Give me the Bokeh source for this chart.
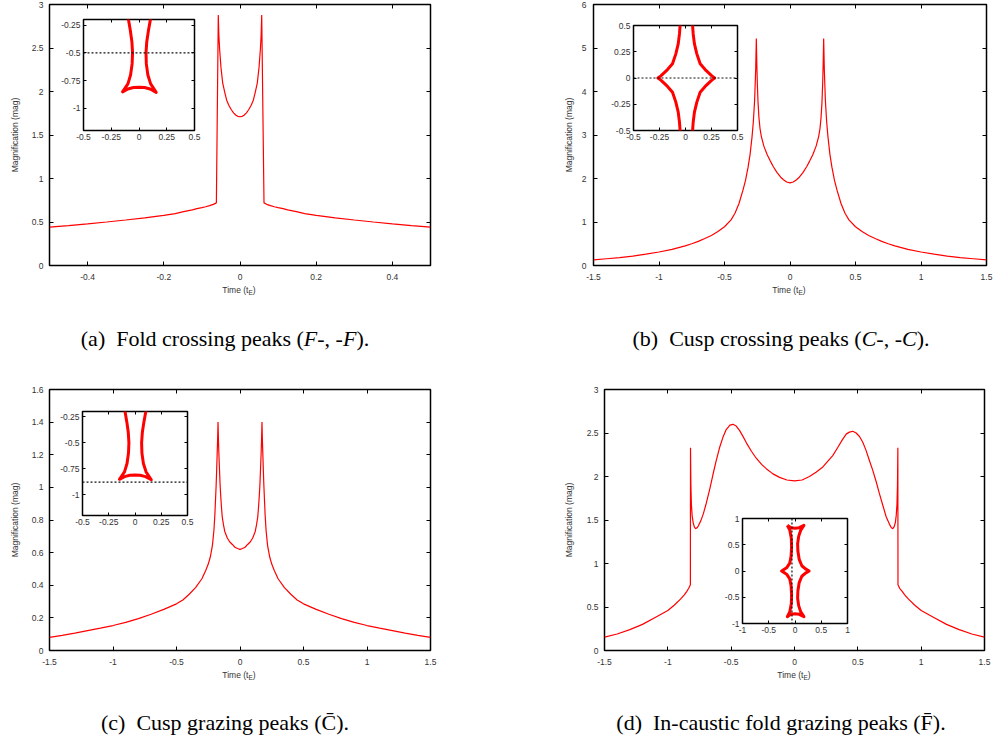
from bokeh.plotting import figure
from bokeh.models import GridBox, Div, LinearAxis, FixedTicker, Range1d, ColumnDataSource, Span
from bokeh.embed import file_html
from bokeh.resources import INLINE

# ---------------- data ----------------
# (a) fold crossing peaks
A_T = [-0.5, -0.45, -0.4, -0.35, -0.3, -0.25, -0.2, -0.17, -0.148, -0.125, -0.113, -0.1, -0.09, -0.08, -0.07,
       -0.062, -0.057, -0.0555, -0.0534, -0.05, -0.0455, -0.04, -0.035, -0.029, -0.0227, -0.017, -0.0114,
       -0.006, 0.0, 0.006, 0.0114, 0.017, 0.0227, 0.029, 0.035, 0.04, 0.0455, 0.05, 0.0534, 0.0555, 0.057,
       0.063, 0.07, 0.08, 0.09, 0.1, 0.113, 0.125, 0.148, 0.17, 0.2, 0.25, 0.3, 0.35, 0.4, 0.45, 0.5]
A_MAG = [0.44, 0.458, 0.478, 0.50, 0.523, 0.548, 0.577, 0.597, 0.62, 0.64, 0.654, 0.665, 0.675, 0.688, 0.703,
         0.72, 2.88, 2.65, 2.48, 2.28, 2.10, 1.99, 1.90, 1.84, 1.79, 1.755, 1.73, 1.715, 1.71, 1.715, 1.73,
         1.755, 1.79, 1.84, 1.90, 1.99, 2.10, 2.28, 2.48, 2.65, 2.88, 0.72, 0.703, 0.688, 0.675, 0.665,
         0.654, 0.64, 0.62, 0.597, 0.577, 0.548, 0.523, 0.50, 0.478, 0.458, 0.44]

# (b) cusp crossing peaks
B_T = [-1.5, -1.4, -1.3, -1.2, -1.1, -1.0, -0.9, -0.8, -0.75, -0.7, -0.65, -0.6, -0.55, -0.5, -0.45, -0.42,
       -0.39, -0.36, -0.34, -0.32, -0.305, -0.29, -0.28, -0.27, -0.262, -0.257, -0.253, -0.249, -0.244,
       -0.237, -0.229, -0.219, -0.2, -0.185, -0.173, -0.15, -0.127, -0.1, -0.071, -0.05, -0.025, 0.0,
       0.025, 0.05, 0.071, 0.1, 0.127, 0.15, 0.173, 0.185, 0.2, 0.219, 0.229, 0.237, 0.244, 0.249, 0.253,
       0.257, 0.262, 0.27, 0.28, 0.29, 0.305, 0.32, 0.34, 0.36, 0.39, 0.42, 0.45, 0.5, 0.55, 0.6, 0.65,
       0.7, 0.75, 0.8, 0.9, 1.0, 1.1, 1.2, 1.3, 1.4, 1.5]
B_MAG = [0.13, 0.155, 0.18, 0.215, 0.26, 0.31, 0.37, 0.45, 0.5, 0.555, 0.62, 0.69, 0.78, 0.89, 1.05, 1.2,
         1.42, 1.72, 1.95, 2.26, 2.55, 2.95, 3.3, 3.8, 4.5, 5.22, 4.6, 4.15, 3.75, 3.4, 3.15, 2.97, 2.75,
         2.63, 2.54, 2.4, 2.27, 2.14, 2.03, 1.97, 1.92, 1.9, 1.92, 1.97, 2.03, 2.14, 2.27, 2.4, 2.54, 2.63,
         2.75, 2.97, 3.15, 3.4, 3.75, 4.15, 4.6, 5.22, 4.5, 3.8, 3.3, 2.95, 2.55, 2.26, 1.95, 1.72, 1.42,
         1.2, 1.05, 0.89, 0.78, 0.69, 0.62, 0.555, 0.5, 0.45, 0.37, 0.31, 0.26, 0.215, 0.18, 0.155, 0.13]

# (c) cusp grazing peaks
C_T = [-1.5, -1.4, -1.3, -1.2, -1.1, -1.0, -0.9, -0.8, -0.7, -0.6, -0.5, -0.45, -0.4, -0.35, -0.3, -0.27,
       -0.25, -0.235, -0.22, -0.215, -0.205, -0.198, -0.193, -0.188, -0.184, -0.18, -0.176, -0.173, -0.17,
       -0.166, -0.162, -0.157, -0.152, -0.146, -0.14, -0.13, -0.12, -0.11, -0.1, -0.08, -0.06, -0.04, -0.02,
       0.0, 0.02, 0.04, 0.06, 0.08, 0.1, 0.11, 0.12, 0.13, 0.14, 0.146, 0.152, 0.157, 0.162, 0.166, 0.17,
       0.173, 0.176, 0.18, 0.184, 0.188, 0.193, 0.198, 0.205, 0.215, 0.22, 0.235, 0.25, 0.27, 0.3, 0.35,
       0.4, 0.45, 0.5, 0.6, 0.7, 0.8, 0.9, 1.0, 1.1, 1.2, 1.3, 1.4, 1.5]
C_MAG = [0.08, 0.093, 0.107, 0.122, 0.137, 0.153, 0.172, 0.195, 0.222, 0.252, 0.286, 0.31, 0.345, 0.385,
         0.44, 0.49, 0.53, 0.57, 0.63, 0.66, 0.74, 0.83, 0.92, 1.01, 1.10, 1.2, 1.3, 1.40, 1.3, 1.2, 1.12,
         1.02, 0.95, 0.88, 0.82, 0.77, 0.73, 0.71, 0.69, 0.665, 0.65, 0.633, 0.625, 0.62, 0.625, 0.633, 0.65,
         0.665, 0.69, 0.71, 0.73, 0.77, 0.82, 0.88, 0.95, 1.02, 1.12, 1.2, 1.3, 1.40, 1.3, 1.2, 1.10, 1.01,
         0.92, 0.83, 0.74, 0.66, 0.63, 0.57, 0.53, 0.49, 0.44, 0.385, 0.345, 0.31, 0.286, 0.252, 0.222,
         0.195, 0.172, 0.153, 0.137, 0.122, 0.107, 0.093, 0.08]

# (d) in-caustic fold grazing peaks
D_T = [-1.5, -1.4, -1.3, -1.2, -1.1, -1.0, -0.95, -0.9, -0.87, -0.85, -0.835, -0.822, -0.821, -0.818,
       -0.814, -0.808, -0.8, -0.791, -0.781, -0.77, -0.76, -0.74, -0.72, -0.697, -0.67, -0.644, -0.62,
       -0.592, -0.565, -0.539, -0.51, -0.486, -0.46, -0.434, -0.41, -0.381, -0.34, -0.302, -0.26, -0.223,
       -0.17, -0.118, -0.06, 0.0, 0.06, 0.118, 0.17, 0.224, 0.26, 0.302, 0.34, 0.381, 0.41, 0.434, 0.46,
       0.487, 0.513, 0.54, 0.565, 0.59, 0.618, 0.645, 0.671, 0.697, 0.723, 0.75, 0.765, 0.776, 0.786,
       0.796, 0.803, 0.809, 0.813, 0.816, 0.817, 0.83, 0.85, 0.87, 0.9, 0.95, 1.0, 1.1, 1.2, 1.3, 1.4, 1.5]
D_MAG = [0.153, 0.19, 0.24, 0.30, 0.38, 0.46, 0.52, 0.59, 0.64, 0.68, 0.715, 0.755, 2.33, 1.9, 1.68, 1.55,
         1.47, 1.42, 1.40, 1.41, 1.43, 1.49, 1.57, 1.69, 1.85, 2.02, 2.17, 2.33, 2.45, 2.54, 2.59, 2.60,
         2.58, 2.53, 2.47, 2.39, 2.29, 2.21, 2.14, 2.09, 2.03, 1.99, 1.96, 1.95, 1.96, 2.0, 2.05, 2.11, 2.17,
         2.24, 2.33, 2.43, 2.49, 2.51, 2.52, 2.50, 2.46, 2.39, 2.30, 2.19, 2.07, 1.94, 1.80, 1.67, 1.54,
         1.45, 1.41, 1.40, 1.42, 1.47, 1.55, 1.68, 1.9, 2.33, 0.755, 0.715, 0.68, 0.64, 0.59, 0.52, 0.46,
         0.38, 0.30, 0.24, 0.19, 0.153]

# caustics (insets)
FOLD_CAUSTIC_X = [-0.105, -0.095, -0.078, -0.064, -0.058, -0.062, -0.076, -0.1, -0.148, -0.1, -0.05, 0.0,
                  0.05, 0.1, 0.155, 0.105, 0.08, 0.066, 0.063, 0.07, 0.085, 0.103, 0.112]
FOLD_CAUSTIC_Y = [-0.1, -0.2, -0.3, -0.4, -0.5, -0.6, -0.7, -0.78, -0.852, -0.826, -0.813, -0.81, -0.813,
                  -0.826, -0.856, -0.78, -0.7, -0.6, -0.5, -0.4, -0.3, -0.2, -0.1]
CUSP_LEFT_X = [-0.05, -0.052, -0.058, -0.07, -0.093, -0.125, -0.173, -0.237, -0.265, -0.237, -0.173, -0.125,
               -0.093, -0.07, -0.058, -0.052, -0.05]
CUSP_RIGHT_X = [0.066, 0.068, 0.074, 0.086, 0.109, 0.141, 0.189, 0.253, 0.28, 0.253, 0.189, 0.141, 0.109,
                0.086, 0.074, 0.068, 0.066]
CUSP_Y = [0.55, 0.5, 0.42, 0.325, 0.23, 0.135, 0.08, 0.02, 0.0, -0.02, -0.08, -0.135, -0.23, -0.325, -0.42,
          -0.5, -0.55]
CLOSED_CAUSTIC_X = [-0.146, -0.08, 0.0, 0.08, 0.17, 0.11, 0.07, 0.05, 0.055, 0.08, 0.13, 0.2, 0.27, 0.2, 0.13,
                    0.08, 0.055, 0.05, 0.07, 0.11, 0.17, 0.08, 0.0, -0.08, -0.146, -0.1, -0.07, -0.065,
                    -0.075, -0.1, -0.16, -0.255, -0.16, -0.1, -0.075, -0.065, -0.07, -0.1, -0.146]
CLOSED_CAUSTIC_Y = [0.87, 0.825, 0.815, 0.825, 0.87, 0.78, 0.66, 0.52, 0.38, 0.22, 0.1, 0.04, 0.0, -0.04,
                    -0.1, -0.22, -0.38, -0.52, -0.66, -0.78, -0.87, -0.825, -0.815, -0.825, -0.87, -0.78,
                    -0.62, -0.45, -0.28, -0.15, -0.06, 0.0, 0.06, 0.15, 0.28, 0.45, 0.62, 0.78, 0.87]

# source trajectories (dashed)
A_TRACK_Y = -0.5
B_TRACK_Y = 0.0
C_TRACK_Y = -0.88
D_TRACK_X = -0.058

# ticks
A_XTICKS = [-0.4, -0.2, 0.0, 0.2, 0.4]
A_XLABELS = ["-0.4", "-0.2", "0", "0.2", "0.4"]
A_YTICKS = [0.0, 0.5, 1.0, 1.5, 2.0, 2.5, 3.0]
A_YLABELS = ["0", "0.5", "1", "1.5", "2", "2.5", "3"]
WIDE_XTICKS = [-1.5, -1.0, -0.5, 0.0, 0.5, 1.0, 1.5]
WIDE_XLABELS = ["-1.5", "-1", "-0.5", "0", "0.5", "1", "1.5"]
B_YTICKS = [0.0, 1.0, 2.0, 3.0, 4.0, 5.0, 6.0]
B_YLABELS = ["0", "1", "2", "3", "4", "5", "6"]
C_YTICKS = [0.0, 0.2, 0.4, 0.6, 0.8, 1.0, 1.2, 1.4, 1.6]
C_YLABELS = ["0", "0.2", "0.4", "0.6", "0.8", "1", "1.2", "1.4", "1.6"]
D_YTICKS = A_YTICKS
D_YLABELS = A_YLABELS
IN_QTICKS = [-0.5, -0.25, 0.0, 0.25, 0.5]
IN_QLABELS = ["-0.5", "-0.25", "0", "0.25", "0.5"]
IN_FOLD_YTICKS = [-1.0, -0.75, -0.5, -0.25]
IN_FOLD_YLABELS = ["-1", "-0.75", "-0.5", "-0.25"]
IN_D_TICKS = [-1.0, -0.5, 0.0, 0.5, 1.0]
IN_D_LABELS = ["-1", "-0.5", "0", "0.5", "1"]

CAPTIONS = [
    "(a)&nbsp; Fold crossing peaks (<i>F</i>-, -<i>F</i>).",
    "(b)&nbsp; Cusp crossing peaks (<i>C</i>-, -<i>C</i>).",
    "(c)&nbsp; Cusp grazing peaks (C\u0304).",
    "(d)&nbsp; In-caustic fold grazing peaks (F\u0304).",
]

# ---------------- styling ----------------
SANS = "Liberation Sans"
INK = "#333333"
RED = "#ff0000"
# every figure shares one grid cell, so Bokeh aligns their borders: keep them identical
BORDERS = (70, 40, 40, 50)


def overrides(ticks, labels):
    return {float(t): l for t, l in zip(ticks, labels)}


def make_fig(frame, xr, yr, xt, xl, yt, yl, tick_len, fsize, xs, ys,
             ylabel=None, ylabel_standoff=10):
    fl, ft, fw, fh = frame
    bl, bt, br, bb = BORDERS
    p = figure(width=bl + fw + br, height=bt + fh + bb, x_range=Range1d(*xr), y_range=Range1d(*yr),
               min_border_left=bl, min_border_top=bt, min_border_right=br, min_border_bottom=bb,
               output_backend="svg", toolbar_location=None, margin=(ft - bt, 0, 0, fl - bl))
    p.grid.visible = False
    p.outline_line_color = "black"
    p.outline_line_width = 1.5
    p.background_fill_color = "white"
    p.border_fill_alpha = 0
    bottom = p.below[0]
    left = p.left[0]
    top = LinearAxis(axis_label=None)
    right = LinearAxis(axis_label=None)
    p.add_layout(top, "above")
    p.add_layout(right, "right")
    for ax, ticks in ((bottom, xt), (top, xt), (left, yt), (right, yt)):
        ax.ticker = FixedTicker(ticks=ticks)
        ax.axis_label = None
        ax.axis_line_color = None
        ax.major_tick_in = tick_len
        ax.major_tick_out = 0
        ax.major_tick_line_color = "black"
        ax.major_tick_line_width = 1
        ax.minor_tick_line_color = None
        ax.major_label_text_font = SANS
        ax.major_label_text_font_size = fsize
        ax.major_label_text_color = INK
    bottom.major_label_overrides = overrides(xt, xl)
    left.major_label_overrides = overrides(yt, yl)
    bottom.major_label_standoff = xs
    left.major_label_standoff = ys
    for ax in (top, right):
        ax.major_label_text_color = None
        ax.major_label_text_font_size = "1px"
        ax.major_label_standoff = 0
    if ylabel:
        left.axis_label = ylabel
        left.axis_label_text_font = SANS
        left.axis_label_text_font_size = "8.5px"
        left.axis_label_text_font_style = "normal"
        left.axis_label_text_color = INK
        left.axis_label_standoff = ylabel_standoff
    return p


def light_curve(p, t, mag):
    p.line(x="t", y="mag", source=ColumnDataSource(dict(t=t, mag=mag)), line_color=RED, line_width=1.2)


def caustic(p, xs, ys):
    p.line(x="x", y="y", source=ColumnDataSource(dict(x=xs, y=ys)), line_color=RED, line_width=3,
           line_join="round")


def track(p, loc, dim):
    p.add_layout(Span(location=loc, dimension=dim, line_color="#111111", line_width=1.2, line_dash="2 2"))


YLAB = "Magnification (mag)"

# main panels
pa = make_fig((49, 4, 381, 261), (-0.5, 0.5), (0, 3), A_XTICKS, A_XLABELS, A_YTICKS, A_YLABELS,
              4, "8.5px", 8, 6, YLAB, 9)
light_curve(pa, A_T, A_MAG)
pb = make_fig((593, 4, 393, 261), (-1.5, 1.5), (0, 6), WIDE_XTICKS, WIDE_XLABELS, B_YTICKS, B_YLABELS,
              4, "8.5px", 8, 7, YLAB, 5)
light_curve(pb, B_T, B_MAG)
pc = make_fig((49, 389, 381, 261), (-1.5, 1.5), (0, 1.6), WIDE_XTICKS, WIDE_XLABELS, C_YTICKS, C_YLABELS,
              4, "8.5px", 8, 6, YLAB, 9)
light_curve(pc, C_T, C_MAG)
pd = make_fig((604, 389, 380, 261), (-1.5, 1.5), (0, 3), WIDE_XTICKS, WIDE_XLABELS, D_YTICKS, D_YLABELS,
              4, "8.5px", 8, 6, YLAB, 10)
light_curve(pd, D_T, D_MAG)

# insets
ia = make_fig((83, 19, 111, 111), (-0.5, 0.5), (-1.2, -0.2), IN_QTICKS, IN_QLABELS, IN_FOLD_YTICKS,
              IN_FOLD_YLABELS, 3, "8.5px", 3, 3)
caustic(ia, FOLD_CAUSTIC_X, FOLD_CAUSTIC_Y)
track(ia, A_TRACK_Y, "width")

ib = make_fig((633, 25, 104, 105), (-0.5, 0.5), (-0.5, 0.5), IN_QTICKS, IN_QLABELS, IN_QTICKS, IN_QLABELS,
              3, "8.5px", 3, 3)
caustic(ib, CUSP_LEFT_X, CUSP_Y)
caustic(ib, CUSP_RIGHT_X, CUSP_Y)
track(ib, B_TRACK_Y, "width")

ic = make_fig((82, 411, 105, 104), (-0.5, 0.5), (-1.2, -0.2), IN_QTICKS, IN_QLABELS, IN_FOLD_YTICKS,
              IN_FOLD_YLABELS, 3, "8.5px", 3, 3)
caustic(ic, FOLD_CAUSTIC_X, FOLD_CAUSTIC_Y)
track(ic, C_TRACK_Y, "width")

idd = make_fig((742, 518, 105, 105), (-1, 1), (-1, 1), IN_D_TICKS, IN_D_LABELS, IN_D_TICKS, IN_D_LABELS,
               3, "8.5px", 3, 3)
caustic(idd, CLOSED_CAUSTIC_X, CLOSED_CAUSTIC_Y)
track(idd, D_TRACK_X, "height")


def xlabel_div(cx, top):
    html = ('<div style="font-family:\'Liberation Sans\';font-size:8.5px;line-height:10px;color:#333;'
            'text-align:center;width:120px;white-space:nowrap">Time (t<span style="font-size:6.5px;'
            'position:relative;top:2px">E</span>)</div>')
    return Div(text=html, width=120, height=12, margin=(top, 0, 0, int(cx - 60)))


def caption_div(text, left, top):
    html = ('<div style="font-family:\'Liberation Serif\';font-size:22px;line-height:26px;color:#000;'
            'text-align:center;width:440px;white-space:nowrap">%s</div>' % text)
    return Div(text=html, width=440, height=26, margin=(top, 0, 0, left))


items = [pa, pb, pc, pd, ia, ib, ic, idd,
         xlabel_div(239.5, 281), xlabel_div(789.5, 281), xlabel_div(239.5, 666), xlabel_div(794, 666),
         caption_div(CAPTIONS[0], 5, 326), caption_div(CAPTIONS[1], 561, 326),
         caption_div(CAPTIONS[2], 5, 710), caption_div(CAPTIONS[3], 561, 710)]

layout = GridBox(children=[(c, 0, 0) for c in items], width=999, height=740,
                 styles={"overflow": "hidden"})

open("out.html", "w").write(file_html(layout, INLINE))
